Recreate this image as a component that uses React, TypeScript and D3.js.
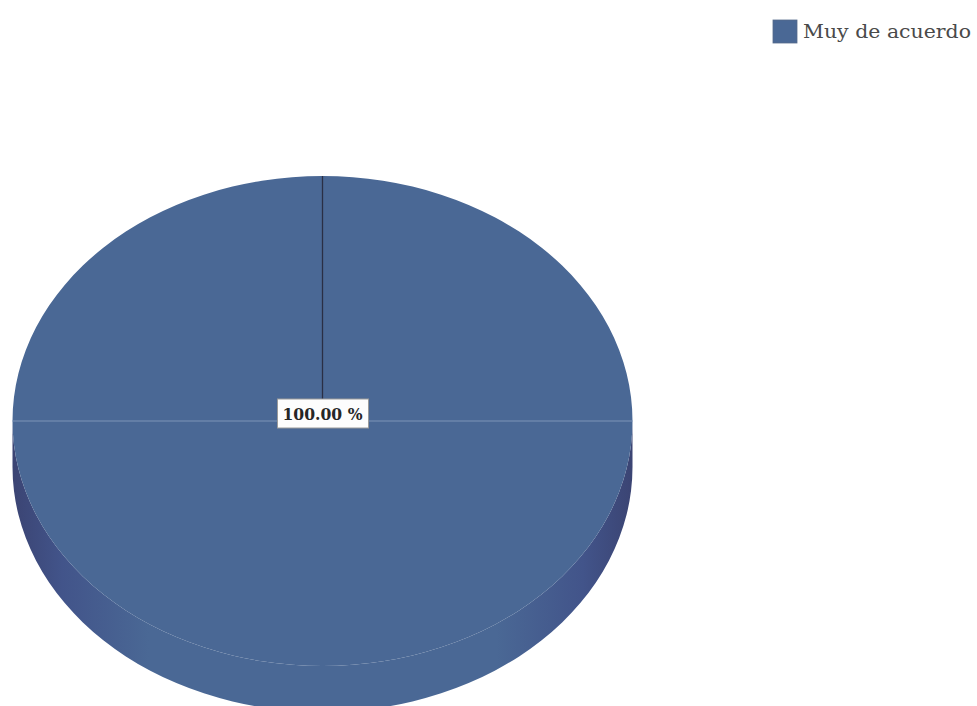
import React from "react";
import * as d3 from "d3";

const categories = ["Muy de acuerdo"];
const values = [100];
const colors = ["#4a6895"];

const W = 977;
const H = 706;

export default function App() {
  const cx = 322.5, cy = 421, rx = 310, ry = 245, depth = 46;
  const pie = d3.pie<number>().sort(null).startAngle(0).endAngle(2 * Math.PI);
  const arcs = pie(values);
  const total = d3.sum(values);
  const pt = (a: number, dy = 0) => [cx + rx * Math.sin(a), cy - ry * Math.cos(a) + dy];

  const topPath = (s: number, e: number) => {
    if (e - s >= 2 * Math.PI - 1e-6) {
      return `M${cx - rx},${cy} A${rx},${ry} 0 1 1 ${cx + rx},${cy} A${rx},${ry} 0 1 1 ${cx - rx},${cy} Z`;
    }
    const [x0, y0] = pt(s);
    const [x1, y1] = pt(e);
    const large = e - s > Math.PI ? 1 : 0;
    return `M${cx},${cy} L${x0},${y0} A${rx},${ry} 0 ${large} 1 ${x1},${y1} Z`;
  };
  const sidePath = (s: number, e: number) => {
    const a0 = Math.max(s, Math.PI / 2);
    const a1 = Math.min(e, 1.5 * Math.PI);
    if (a1 <= a0) return null;
    const [x0, y0] = pt(a0);
    const [x1, y1] = pt(a1);
    const large = a1 - a0 > Math.PI ? 1 : 0;
    return `M${x0},${y0} A${rx},${ry} 0 ${large} 1 ${x1},${y1} L${x1},${y1 + depth} A${rx},${ry} 0 ${large} 0 ${x0},${y0 + depth} Z`;
  };

  return (
    <svg width={W} height={H} style={{ position: "absolute", left: 0, top: 0, background: "#fff" }}>
      <defs>
        <linearGradient id="sideGrad" x1="0" x2="1" y1="0" y2="0">
          <stop offset="0" stopColor="#3b4473" />
          <stop offset="0.08" stopColor="#42548a" />
          <stop offset="0.22" stopColor="#4a6895" />
          <stop offset="0.78" stopColor="#4a6895" />
          <stop offset="0.92" stopColor="#42548a" />
          <stop offset="1" stopColor="#3b4473" />
        </linearGradient>
      </defs>
      {arcs.map((a, i) => {
        const sp = sidePath(a.startAngle, a.endAngle);
        return sp ? <path key={"s" + i} d={sp} fill="url(#sideGrad)" /> : null;
      })}
      {arcs.map((a, i) => (
        <path key={"t" + i} d={topPath(a.startAngle, a.endAngle)} fill={colors[i]} />
      ))}
      {arcs.map((a, i) => {
        const [x0, y0] = pt(a.startAngle);
        return <line key={"l" + i} x1={cx} y1={cy} x2={x0} y2={y0} stroke="#2a2f45" strokeWidth={1.3} />;
      })}
      <line x1={cx - rx} x2={cx + rx} y1={cy} y2={cy} stroke="#7d93b8" strokeWidth={1.2} />
      {arcs.map((a, i) => {
        const pct = ((a.value / total) * 100).toFixed(2) + " %";
        return (
          <g key={"lab" + i}>
            <rect x={cx - 45} y={399} width={91} height={29} fill="#fdfdfd" stroke="#9a9a9a" strokeWidth={1} />
            <text x={cx} y={420} textAnchor="middle" textLength={80} lengthAdjust="spacingAndGlyphs" fontFamily="'DejaVu Serif Condensed', 'DejaVu Serif', serif" fontWeight="bold" fontSize={17} fill="#262626">
              {pct}
            </text>
          </g>
        );
      })}
      {categories.map((c, i) => (
        <g key={"lg" + i}>
          <rect x={773} y={20 + i * 30} width={24} height={23} fill={colors[i]} stroke="#556a8a" strokeWidth={0.8} />
          <text x={803} y={38 + i * 30} textLength={168} lengthAdjust="spacingAndGlyphs" fontFamily="'DejaVu Serif', serif" fontSize={19} fill="#4a4a4a">
            {c}
          </text>
        </g>
      ))}
    </svg>
  );
}
